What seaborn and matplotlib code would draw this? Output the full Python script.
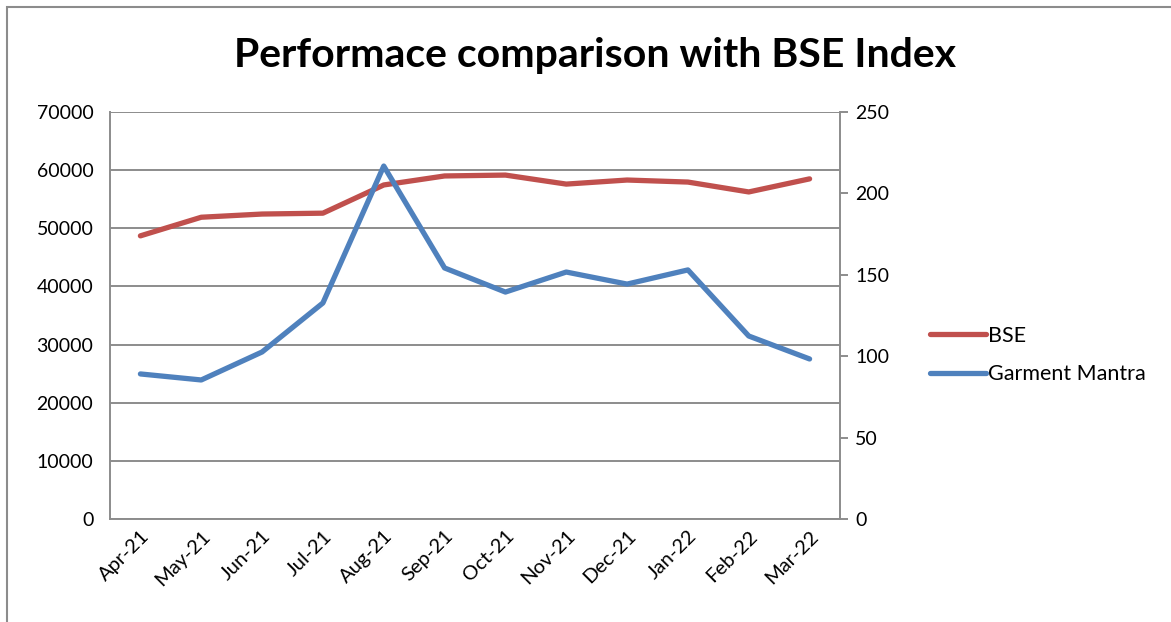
import matplotlib
matplotlib.use("Agg")
import matplotlib.pyplot as plt
import seaborn as sns
import pandas as pd
from matplotlib.patches import Rectangle

months = ["Apr-21", "May-21", "Jun-21", "Jul-21", "Aug-21", "Sep-21",
          "Oct-21", "Nov-21", "Dec-21", "Jan-22", "Feb-22", "Mar-22"]
bse = [48700, 51900, 52450, 52600, 57450, 59000, 59150, 57600, 58300, 57950, 56250, 58500]
garment = [89.1, 85.4, 102.6, 132.7, 216.8, 154.2, 139.4, 151.7, 144.3, 153.0, 112.4, 98.3]
left_ticks = [0, 10000, 20000, 30000, 40000, 50000, 60000, 70000]
right_ticks = [0, 50, 100, 150, 200, 250]

sns.set_theme(style="white")
plt.rcParams["font.family"] = ["Lato", "DejaVu Sans"]
plt.rcParams["text.color"] = "black"

df = pd.DataFrame({"x": list(range(len(months))), "month": months,
                   "BSE": bse, "Garment Mantra": garment})

fig = plt.figure(figsize=(11.71, 6.22), dpi=100)
ax = fig.add_axes([110/1171, 1-519/622, 730/1171, 407/622])
ax2 = ax.twinx()

red = "#C0504D"
blue = "#4F81BD"
sns.lineplot(data=df, x="x", y="BSE", ax=ax, color=red, linewidth=3.8,
             label="BSE", legend=False)
sns.lineplot(data=df, x="x", y="Garment Mantra", ax=ax2, color=blue, linewidth=3.8,
             label="Garment Mantra", legend=False)

ax.set_xlim(-0.5, len(months) - 0.5)
ax.set_ylim(0, 70000)
ax2.set_ylim(0, 250)
ax.set_yticks(left_ticks)
ax.set_yticklabels([str(t) for t in left_ticks], fontsize=14)
ax2.set_yticks(right_ticks)
ax2.set_yticklabels([str(t) for t in right_ticks], fontsize=14)
ax.set_xticks(range(len(months)))
ax.set_xticklabels(months, rotation=45, ha="right", rotation_mode="anchor", fontsize=14.5)
ax.set_xlabel("")
ax.set_ylabel("")
ax2.set_ylabel("")

ax.grid(axis="y", color="#8c8c8c", linewidth=1.4)
ax.grid(axis="x", visible=False)
ax2.grid(False)
ax.set_zorder(0)
for a in (ax, ax2):
    for s in a.spines.values():
        s.set_visible(False)
ax.spines["left"].set_visible(True)
ax.spines["left"].set_color("#8c8c8c")
ax.spines["left"].set_linewidth(1.4)
ax.spines["bottom"].set_visible(True)
ax.spines["bottom"].set_color("#8c8c8c")
ax.spines["bottom"].set_linewidth(1.4)
ax2.spines["right"].set_visible(True)
ax2.spines["right"].set_color("#8c8c8c")
ax2.spines["right"].set_linewidth(1.4)

ax.tick_params(axis="y", length=0, pad=12, colors="black")
ax.tick_params(axis="x", length=0, pad=6, colors="black")
ax2.tick_params(axis="y", right=True, length=6, width=1.4, color="#8c8c8c", pad=5, labelcolor="black")

fig.suptitle("Performace comparison with BSE Index", x=595/1171, y=1-55/622,
             va="center", fontsize=29.5, fontweight="bold", color="black")

h1, l1 = ax.get_legend_handles_labels()
h2, l2 = ax2.get_legend_handles_labels()
fig.legend(h1 + h2, l1 + l2, loc="center left", bbox_to_anchor=(911/1171, 1-355/622),
           frameon=False, fontsize=15.5, handlelength=2.6, handletextpad=0.1,
           labelspacing=0.85, labelcolor="black")

fig.patches.append(Rectangle((7/1171, -0.1), 1.2, 1 - 7/622 + 0.1, transform=fig.transFigure,
                             fill=False, edgecolor="#8c8c8c", linewidth=1.5))

fig.savefig("out.png", dpi=100)
